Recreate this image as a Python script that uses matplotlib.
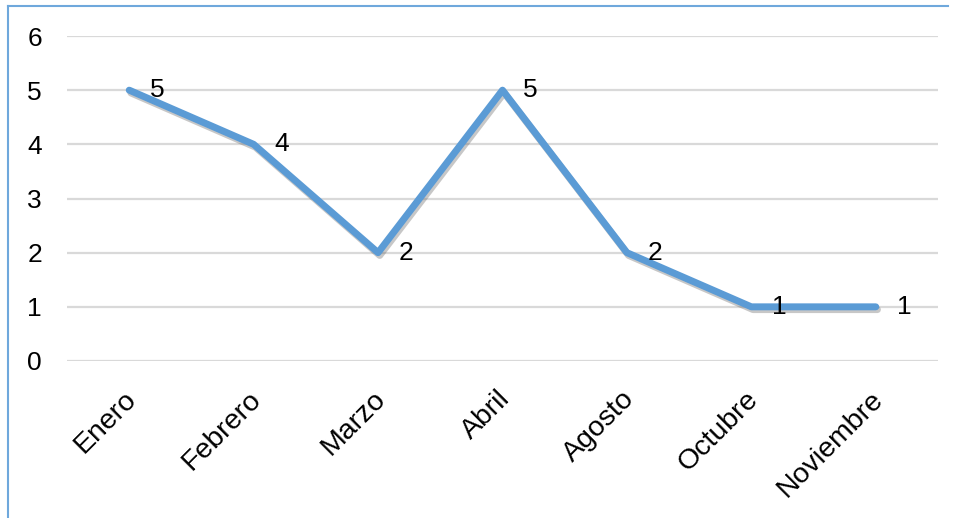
import matplotlib
matplotlib.use("Agg")
import matplotlib.pyplot as plt
import matplotlib.patheffects as pe
import matplotlib.transforms as mtrans
from matplotlib.lines import Line2D

months = ["Enero", "Febrero", "Marzo", "Abril", "Agosto", "Octubre", "Noviembre"]
values = [5, 4, 2, 5, 2, 1, 1]
yticks = [0, 1, 2, 3, 4, 5, 6]

plt.rcParams['font.family'] = ['Liberation Sans', 'DejaVu Sans']

W, H = 956, 518
fig = plt.figure(figsize=(W / 100, H / 100), dpi=100)
ax = fig.add_axes([67 / W, 1 - 361 / H, (938 - 67) / W, (361 - 36) / H])

FS = 19
XFS = 20.5
x = list(range(len(months)))
ax.plot(x, values, color="#5B9BD5", lw=5.0, solid_capstyle="round", solid_joinstyle="round",
        path_effects=[pe.SimpleLineShadow(offset=(1.2, -2.0), shadow_color="#606060", alpha=0.35),
                      pe.Normal()], zorder=3)

for xi, v in zip(x, values):
    ax.annotate(str(v), (xi, v), xytext=(15, 0), textcoords="offset points",
                ha="left", va="center", fontsize=FS, color="black", zorder=4)

ax.set_xlim(-0.5, len(months) - 0.5)
ax.set_ylim(0, 6)
ax.set_yticks(yticks)
ax.set_yticklabels([str(t) for t in yticks], fontsize=FS)
ax.set_xticks(x)
ax.set_xticklabels(months, fontsize=XFS, rotation=45, ha="right", rotation_mode="anchor")
ax.tick_params(axis="both", length=0)
ax.tick_params(axis="y", pad=18)
ax.tick_params(axis="x", pad=18)
shift = mtrans.ScaledTranslation(-6 / 100, 0, fig.dpi_scale_trans)
for lab in ax.get_xticklabels():
    lab.set_transform(lab.get_transform() + shift)
ax.grid(axis="y", color="#D9D9D9", lw=1.6)
ax.set_axisbelow(True)
for s in ax.spines.values():
    s.set_visible(False)

# outer chart border (left & top)
fig.add_artist(Line2D([7.5 / W, 7.5 / W], [0, 1 - 6 / H], color="#6FA8DC", lw=1.5,
                      transform=fig.transFigure))
fig.add_artist(Line2D([7.5 / W, 948 / W], [1 - 6 / H, 1 - 6 / H], color="#6FA8DC", lw=1.5,
                      transform=fig.transFigure))

fig.savefig("out.png", dpi=100)
